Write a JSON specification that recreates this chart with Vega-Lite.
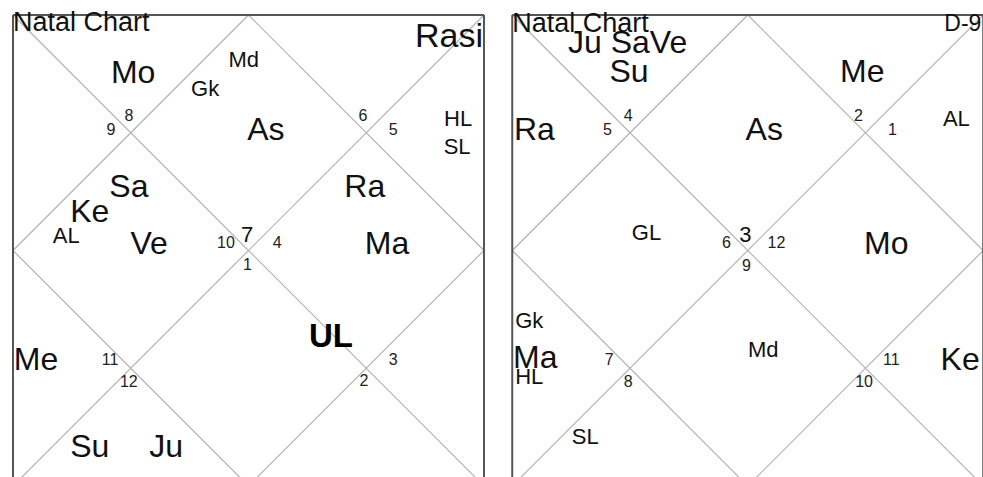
{
  "$schema": "https://vega.github.io/schema/vega-lite/v6.json",
  "width": 983,
  "height": 477,
  "autosize": {"type": "fit", "contains": "padding"},
  "padding": 0,
  "background": "white",
  "config": {"view": {"stroke": null}},
  "datasets": {
    "lines": [
      {"kind": "grid", "x": 0, "y": 0, "x2": 100, "y2": 100},
      {"kind": "grid", "x": 100, "y": 0, "x2": 0, "y2": 100},
      {"kind": "grid", "x": 50, "y": 0, "x2": 100, "y2": 50},
      {"kind": "grid", "x": 100, "y": 50, "x2": 50, "y2": 100},
      {"kind": "grid", "x": 50, "y": 100, "x2": 0, "y2": 50},
      {"kind": "grid", "x": 0, "y": 50, "x2": 50, "y2": 0},
      {"kind": "grid", "x": 106, "y": 0, "x2": 206, "y2": 100},
      {"kind": "grid", "x": 206, "y": 0, "x2": 106, "y2": 100},
      {"kind": "grid", "x": 156, "y": 0, "x2": 206, "y2": 50},
      {"kind": "grid", "x": 206, "y": 50, "x2": 156, "y2": 100},
      {"kind": "grid", "x": 156, "y": 100, "x2": 106, "y2": 50},
      {"kind": "grid", "x": 106, "y": 50, "x2": 156, "y2": 0},
      {"kind": "frame", "x": 0, "y": 0, "x2": 100, "y2": 0},
      {"kind": "frame", "x": 0, "y": 0, "x2": 0, "y2": 100},
      {"kind": "frame", "x": 100, "y": 0, "x2": 100, "y2": 100},
      {"kind": "frame", "x": 0, "y": 100, "x2": 100, "y2": 100},
      {"kind": "frame", "x": 106, "y": 0, "x2": 206, "y2": 0},
      {"kind": "frame", "x": 106, "y": 0, "x2": 106, "y2": 100},
      {"kind": "frame", "x": 206, "y": 0, "x2": 206, "y2": 100},
      {"kind": "frame", "x": 106, "y": 100, "x2": 206, "y2": 100}
    ],
    "labels": [
      {"chart": "Rasi", "kind": "title", "label": "Natal Chart", "x": 0, "y": 3.4},
      {"chart": "Rasi", "kind": "varga", "label": "Rasi", "x": 99.8, "y": 6.8},
      {"chart": "Rasi", "kind": "planet", "label": "Mo", "x": 25.5, "y": 14.4},
      {"chart": "Rasi", "kind": "point", "label": "Md", "x": 49.0, "y": 11.0},
      {"chart": "Rasi", "kind": "point", "label": "Gk", "x": 40.8, "y": 17.2},
      {"chart": "Rasi", "kind": "house", "label": "9", "x": 20.8, "y": 25.5},
      {"chart": "Rasi", "kind": "house", "label": "8", "x": 24.6, "y": 22.5},
      {"chart": "Rasi", "kind": "planet", "label": "As", "x": 53.7, "y": 26.5},
      {"chart": "Rasi", "kind": "house", "label": "6", "x": 74.3, "y": 22.5},
      {"chart": "Rasi", "kind": "house", "label": "5", "x": 80.7, "y": 25.5},
      {"chart": "Rasi", "kind": "point", "label": "HL", "x": 94.5, "y": 23.6},
      {"chart": "Rasi", "kind": "point", "label": "SL", "x": 94.3, "y": 29.5},
      {"chart": "Rasi", "kind": "planet", "label": "Sa", "x": 24.6, "y": 38.6},
      {"chart": "Rasi", "kind": "planet", "label": "Ra", "x": 74.7, "y": 38.6},
      {"chart": "Rasi", "kind": "planet", "label": "Ke", "x": 16.3, "y": 43.9},
      {"chart": "Rasi", "kind": "point", "label": "AL", "x": 11.3, "y": 48.4},
      {"chart": "Rasi", "kind": "planet", "label": "Ve", "x": 28.9, "y": 50.7},
      {"chart": "Rasi", "kind": "lagna", "label": "7", "x": 49.7, "y": 48.2},
      {"chart": "Rasi", "kind": "house", "label": "10", "x": 45.2, "y": 49.5},
      {"chart": "Rasi", "kind": "house", "label": "4", "x": 56.1, "y": 49.5},
      {"chart": "Rasi", "kind": "house", "label": "1", "x": 49.8, "y": 54.1},
      {"chart": "Rasi", "kind": "planet", "label": "Ma", "x": 79.4, "y": 50.7},
      {"chart": "Rasi", "kind": "planet", "label": "Me", "x": 4.9, "y": 75.4},
      {"chart": "Rasi", "kind": "house", "label": "11", "x": 20.6, "y": 74.3},
      {"chart": "Rasi", "kind": "house", "label": "12", "x": 24.6, "y": 79.0},
      {"chart": "Rasi", "kind": "upapada", "label": "UL", "x": 67.5, "y": 70.5},
      {"chart": "Rasi", "kind": "house", "label": "3", "x": 80.7, "y": 74.3},
      {"chart": "Rasi", "kind": "house", "label": "2", "x": 74.5, "y": 78.8},
      {"chart": "Rasi", "kind": "planet", "label": "Su", "x": 16.3, "y": 93.8},
      {"chart": "Rasi", "kind": "planet", "label": "Ju", "x": 32.5, "y": 93.8},

      {"chart": "D-9", "kind": "title", "label": "Natal Chart", "x": 106, "y": 3.6},
      {"chart": "D-9", "kind": "varga", "label": "D-9", "x": 205.6, "y": 3.4},
      {"chart": "D-9", "kind": "planet", "label": "Ju SaVe", "x": 130.5, "y": 8.1},
      {"chart": "D-9", "kind": "planet", "label": "Su", "x": 130.8, "y": 14.2},
      {"chart": "D-9", "kind": "planet", "label": "Me", "x": 180.3, "y": 14.2},
      {"chart": "D-9", "kind": "planet", "label": "Ra", "x": 110.7, "y": 26.5},
      {"chart": "D-9", "kind": "house", "label": "5", "x": 126.2, "y": 25.5},
      {"chart": "D-9", "kind": "house", "label": "4", "x": 130.6, "y": 22.5},
      {"chart": "D-9", "kind": "planet", "label": "As", "x": 159.5, "y": 26.5},
      {"chart": "D-9", "kind": "house", "label": "2", "x": 179.5, "y": 22.5},
      {"chart": "D-9", "kind": "house", "label": "1", "x": 186.7, "y": 25.5},
      {"chart": "D-9", "kind": "point", "label": "AL", "x": 200.3, "y": 23.6},
      {"chart": "D-9", "kind": "point", "label": "GL", "x": 134.5, "y": 47.8},
      {"chart": "D-9", "kind": "lagna", "label": "3", "x": 155.5, "y": 48.2},
      {"chart": "D-9", "kind": "house", "label": "6", "x": 151.5, "y": 49.5},
      {"chart": "D-9", "kind": "house", "label": "12", "x": 162.1, "y": 49.5},
      {"chart": "D-9", "kind": "house", "label": "9", "x": 155.7, "y": 54.4},
      {"chart": "D-9", "kind": "planet", "label": "Mo", "x": 185.4, "y": 50.7},
      {"chart": "D-9", "kind": "point", "label": "Gk", "x": 109.6, "y": 66.5},
      {"chart": "D-9", "kind": "planet", "label": "Ma", "x": 110.9, "y": 74.9},
      {"chart": "D-9", "kind": "point", "label": "HL", "x": 109.6, "y": 78.3},
      {"chart": "D-9", "kind": "house", "label": "7", "x": 126.6, "y": 74.3},
      {"chart": "D-9", "kind": "house", "label": "8", "x": 130.6, "y": 79.0},
      {"chart": "D-9", "kind": "point", "label": "Md", "x": 159.3, "y": 72.6},
      {"chart": "D-9", "kind": "house", "label": "11", "x": 186.5, "y": 74.3},
      {"chart": "D-9", "kind": "house", "label": "10", "x": 180.7, "y": 79.0},
      {"chart": "D-9", "kind": "planet", "label": "Ke", "x": 201.1, "y": 75.4},
      {"chart": "D-9", "kind": "point", "label": "SL", "x": 121.5, "y": 91.1}
    ]
  },
  "encoding": {
    "x": {"field": "x", "type": "quantitative", "scale": {"domain": [-2.76, 205.95], "nice": false, "zero": false}, "axis": null},
    "y": {"field": "y", "type": "quantitative", "scale": {"domain": [-3.18, 98.09], "reverse": true, "nice": false, "zero": false}, "axis": null}
  },
  "layer": [
    {
      "data": {"name": "lines"},
      "transform": [{"filter": "datum.kind === 'grid'"}],
      "mark": {"type": "rule", "color": "#b3b3b3", "strokeWidth": 1.2, "clip": true},
      "encoding": {"x2": {"field": "x2"}, "y2": {"field": "y2"}}
    },
    {
      "data": {"name": "lines"},
      "transform": [{"filter": "datum.kind === 'frame'"}],
      "mark": {"type": "rule", "color": "#555555", "strokeWidth": 2, "clip": true},
      "encoding": {"x2": {"field": "x2"}, "y2": {"field": "y2"}}
    },
    {
      "data": {"name": "labels"},
      "transform": [{"filter": "datum.kind === 'planet'"}],
      "mark": {"type": "text", "font": "Liberation Sans, Arial, sans-serif", "fontSize": 32, "align": "center", "baseline": "alphabetic", "color": "#111111"},
      "encoding": {"text": {"field": "label"}}
    },
    {
      "data": {"name": "labels"},
      "transform": [{"filter": "datum.kind === 'point'"}],
      "mark": {"type": "text", "font": "Liberation Sans, Arial, sans-serif", "fontSize": 22, "align": "center", "baseline": "alphabetic", "color": "#111111"},
      "encoding": {"text": {"field": "label"}}
    },
    {
      "data": {"name": "labels"},
      "transform": [{"filter": "datum.kind === 'house'"}],
      "mark": {"type": "text", "font": "Liberation Sans, Arial, sans-serif", "fontSize": 16, "align": "center", "baseline": "alphabetic", "color": "#222222"},
      "encoding": {"text": {"field": "label"}}
    },
    {
      "data": {"name": "labels"},
      "transform": [{"filter": "datum.kind === 'lagna'"}],
      "mark": {"type": "text", "font": "Liberation Sans, Arial, sans-serif", "fontSize": 22, "align": "center", "baseline": "alphabetic", "color": "#111111"},
      "encoding": {"text": {"field": "label"}}
    },
    {
      "data": {"name": "labels"},
      "transform": [{"filter": "datum.kind === 'upapada'"}],
      "mark": {"type": "text", "font": "Liberation Sans, Arial, sans-serif", "fontSize": 33, "fontWeight": "bold", "align": "center", "baseline": "alphabetic", "color": "#000000"},
      "encoding": {"text": {"field": "label"}}
    },
    {
      "data": {"name": "labels"},
      "transform": [{"filter": "datum.kind === 'title'"}],
      "mark": {"type": "text", "font": "Liberation Sans, Arial, sans-serif", "fontSize": 27, "align": "left", "baseline": "alphabetic", "color": "#111111"},
      "encoding": {"text": {"field": "label"}}
    },
    {
      "data": {"name": "labels"},
      "transform": [{"filter": "datum.kind === 'varga' && datum.chart === 'Rasi'"}],
      "mark": {"type": "text", "font": "Liberation Sans, Arial, sans-serif", "fontSize": 34, "align": "right", "baseline": "alphabetic", "color": "#111111"},
      "encoding": {"text": {"field": "label"}}
    },
    {
      "data": {"name": "labels"},
      "transform": [{"filter": "datum.kind === 'varga' && datum.chart === 'D-9'"}],
      "mark": {"type": "text", "font": "Liberation Sans, Arial, sans-serif", "fontSize": 23, "align": "right", "baseline": "alphabetic", "color": "#111111"},
      "encoding": {"text": {"field": "label"}}
    }
  ]
}
